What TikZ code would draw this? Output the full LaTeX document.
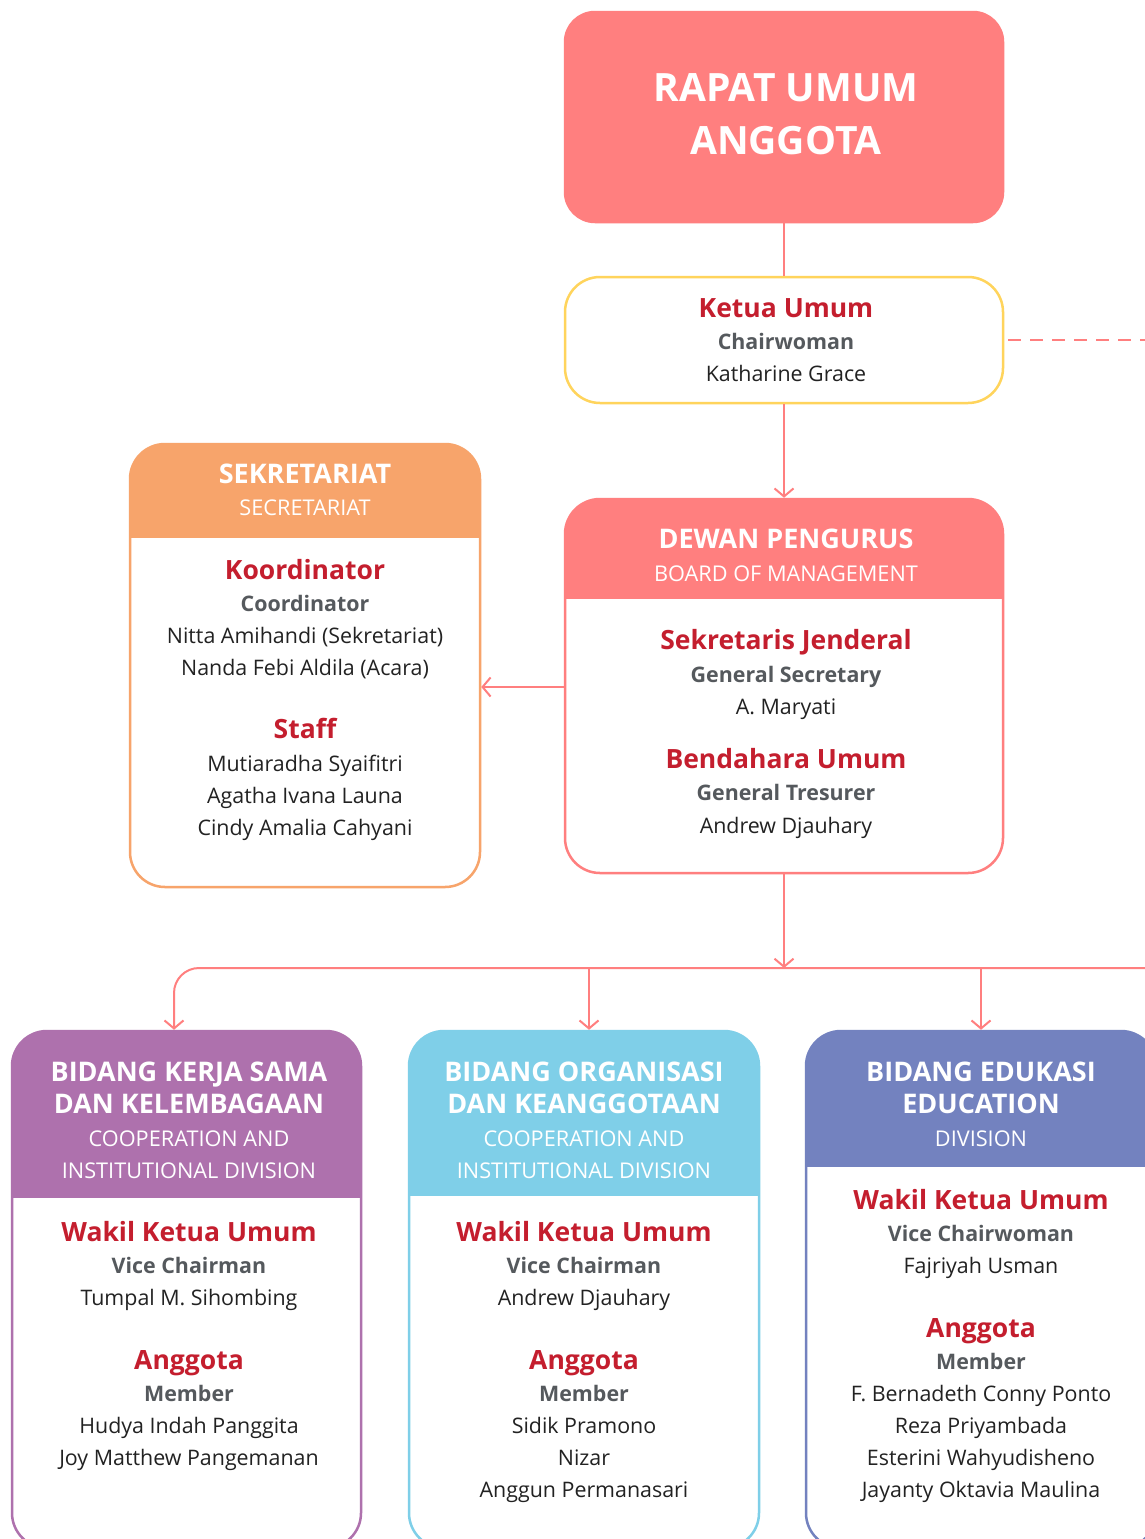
\documentclass[tikz,border=0pt]{standalone}
\usepackage{fontspec}
\setmainfont{Open Sans}
\usetikzlibrary{arrows.meta}
\definecolor{coral}{HTML}{FF7F7F}
\definecolor{redtxt}{HTML}{C41E2E}
\definecolor{graytxt}{HTML}{55595D}
\definecolor{nametxt}{HTML}{222222}
\definecolor{yel}{HTML}{FFD45C}
\definecolor{orng}{HTML}{F7A46B}
\definecolor{purp}{HTML}{AE71AD}
\definecolor{lblue}{HTML}{7FCFE8}
\definecolor{indg}{HTML}{7382BF}
\begin{document}
\begin{tikzpicture}[x=1pt,y=-1pt,
  box/.style={draw=#1, line width=2.5pt, fill=white, rounded corners=35pt, inner sep=0pt},
  hdr/.style 2 args={path picture={\fill[#1, sharp corners] (path picture bounding box.north west) rectangle ([yshift=-#2pt]path picture bounding box.north east);}},
  txt/.style={anchor=mid, inner sep=0pt, yshift=-6.5pt},
  txts/.style={anchor=mid, inner sep=0pt, yshift=-5.5pt},
  ttl/.style={txt, text=white, font=\bfseries\fontsize{27}{31}\selectfont},
  sub/.style={txts, text=white, font=\fontsize{21.7}{25}\selectfont},
  role/.style={txt, text=redtxt, font=\bfseries\fontsize{26.5}{31}\selectfont},
  roleen/.style={txts, text=graytxt, font=\bfseries\fontsize{21.4}{25}\selectfont},
  nm/.style={txts, text=nametxt, font=\fontsize{21.4}{25}\selectfont},
  conn/.style={draw=coral, line width=2pt},
  arr/.style={conn, -{Straight Barb[length=8pt,width=19pt]}}
]
\useasboundingbox (0,0) rectangle (1145,1539);
\clip (0,0) rectangle (1145,1539);
\fill[white] (0,0) rectangle (1145,1539);

% Rapat Umum Anggota
\node[box=coral, fill=coral, rounded corners=30pt, minimum width=438pt, minimum height=210pt] (rapat) at (784,117) {};
\node[ttl, yshift=-4pt, font=\bfseries\fontsize{39}{44}\selectfont] (r1) at (786,88) {RAPAT UMUM};
\node[ttl, yshift=-4pt, font=\bfseries\fontsize{39}{44}\selectfont] (r2) at (786,141) {ANGGOTA};

% Ketua Umum
\node[box=yel, minimum width=438pt, minimum height=126pt] (ketua) at (784,340) {};
\node[role] (k1) at (786,308) {Ketua Umum};
\node[roleen] (k2) at (786,341) {Chairwoman};
\node[nm] (k3) at (786,373) {Katharine Grace};

% Dewan Pengurus
\node[box=coral, hdr={coral}{100}, minimum width=438pt, minimum height=374pt] (dewan) at (784,686) {};
\node[ttl] (d1) at (786,539) {DEWAN PENGURUS};
\node[sub] (d2) at (786,573) {BOARD OF MANAGEMENT};
\node[role] (d3) at (786,640) {Sekretaris Jenderal};
\node[roleen] (d4) at (786,674) {General Secretary};
\node[nm] (d5) at (786,706) {A. Maryati};
\node[role] (d6) at (786,759) {Bendahara Umum};
\node[roleen] (d7) at (786,792) {General Tresurer};
\node[nm] (d8) at (786,825) {Andrew Djauhary};

% Sekretariat
\node[box=orng, hdr={orng}{94}, minimum width=350pt, minimum height=443pt] (sek) at (305,665.5) {};
\node[ttl] (s1) at (305,474) {SEKRETARIAT};
\node[sub] (s2) at (305,507) {SECRETARIAT};
\node[role] (s3) at (305,570) {Koordinator};
\node[roleen] (s4) at (305,603) {Coordinator};
\node[nm] (s5) at (305,635) {Nitta Amihandi (Sekretariat)};
\node[nm] (s6) at (305,667) {Nanda Febi Aldila (Acara)};
\node[role] (s7) at (305,729) {Staff};
\node[nm] (s8) at (305,763) {Mutiaradha Syaifitri};
\node[nm] (s9) at (305,795) {Agatha Ivana Launa};
\node[nm] (s10) at (305,827) {Cindy Amalia Cahyani};

% Bidang Kerja Sama
\node[box=purp, hdr={purp}{167}, minimum width=349pt, minimum height=517pt] (kerja) at (186.5,1289.5) {};
\node[ttl] (p1) at (189,1072) {BIDANG KERJA SAMA};
\node[ttl] (p2) at (189,1104) {DAN KELEMBAGAAN};
\node[sub] (p3) at (189,1138) {COOPERATION AND};
\node[sub] (p4) at (189,1170) {INSTITUTIONAL DIVISION};
\node[role] (p5) at (189,1232) {Wakil Ketua Umum};
\node[roleen] (p6) at (189,1265) {Vice Chairman};
\node[nm] (p7) at (189,1297) {Tumpal M. Sihombing};
\node[role] (p8) at (189,1360) {Anggota};
\node[roleen] (p9) at (189,1393) {Member};
\node[nm] (p10) at (189,1425) {Hudya Indah Panggita};
\node[nm] (p11) at (189,1457) {Joy Matthew Pangemanan};

% Bidang Organisasi
\node[box=lblue, hdr={lblue}{165}, minimum width=350pt, minimum height=517pt] (org) at (584,1289.5) {};
\node[ttl] (b1) at (584,1072) {BIDANG ORGANISASI};
\node[ttl] (b2) at (584,1104) {DAN KEANGGOTAAN};
\node[sub] (b3) at (584,1138) {COOPERATION AND};
\node[sub] (b4) at (584,1170) {INSTITUTIONAL DIVISION};
\node[role] (b5) at (584,1232) {Wakil Ketua Umum};
\node[roleen] (b6) at (584,1265) {Vice Chairman};
\node[nm] (b7) at (584,1297) {Andrew Djauhary};
\node[role] (b8) at (584,1360) {Anggota};
\node[roleen] (b9) at (584,1393) {Member};
\node[nm] (b10) at (584,1425) {Sidik Pramono};
\node[nm] (b11) at (584,1457) {Nizar};
\node[nm] (b12) at (584,1489) {Anggun Permanasari};

% Bidang Edukasi
\node[box=indg, hdr={indg}{136}, minimum width=350pt, minimum height=517pt] (edu) at (981,1289.5) {};
\node[ttl] (e1) at (981,1072) {BIDANG EDUKASI};
\node[ttl] (e2) at (981,1104) {EDUCATION};
\node[sub] (e3) at (981,1138) {DIVISION};
\node[role] (e4) at (981,1200) {Wakil Ketua Umum};
\node[roleen] (e5) at (981,1233) {Vice Chairwoman};
\node[nm] (e6) at (981,1265) {Fajriyah Usman};
\node[role] (e7) at (981,1328) {Anggota};
\node[roleen] (e8) at (981,1361) {Member};
\node[nm] (e9) at (981,1393) {F. Bernadeth Conny Ponto};
\node[nm] (e10) at (981,1425) {Reza Priyambada};
\node[nm] (e11) at (981,1457) {Esterini Wahyudisheno};
\node[nm] (e12) at (981,1489) {Jayanty Oktavia Maulina};

% connectors
\coordinate (busR) at (1160,968);
\coordinate (busM) at (784,968);
\coordinate (dashEnd) at (1160,340);
\draw[conn] (rapat.south) -- (ketua.north);
\draw[conn, dash pattern=on 13pt off 9pt] ([xshift=4pt]ketua.east) -- (dashEnd);
\draw[arr] (ketua.south) -- (dewan.north);
\draw[arr] (dewan.west |- 0,687) -- (sek.east |- 0,687);
\draw[arr] (dewan.south) -- (busM);
\draw[arr, rounded corners=25pt] (busR) -| (kerja.north -| 174,0);
\draw[arr] (589,968) -- (org.north -| 589,0);
\draw[arr] (981,968) -- (edu.north);
\end{tikzpicture}
\end{document}
